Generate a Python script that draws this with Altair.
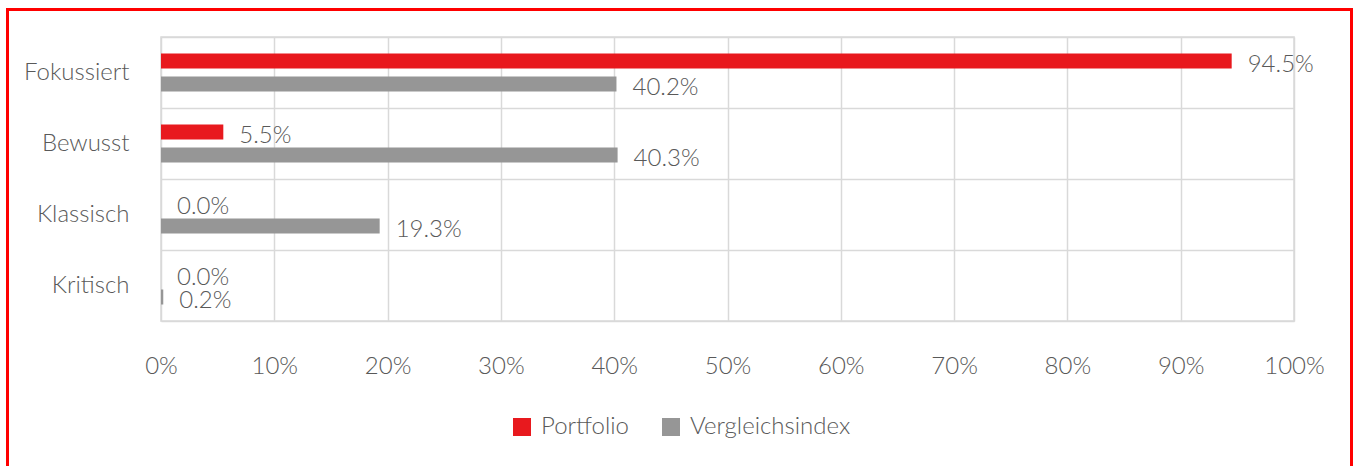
import altair as alt
import pandas as pd

categories = ["Fokussiert", "Bewusst", "Klassisch", "Kritisch"]
series = ["Portfolio", "Vergleichsindex"]
portfolio = [94.5, 5.5, 0.0, 0.0]
vergleichsindex = [40.2, 40.3, 19.3, 0.2]
x_ticks = [0, 10, 20, 30, 40, 50, 60, 70, 80, 90, 100]
colors = ["#E8191E", "#969696"]

rows = []
for c, p, v in zip(categories, portfolio, vergleichsindex):
    rows.append({"Kategorie": c, "Serie": series[0], "Wert": p})
    rows.append({"Kategorie": c, "Serie": series[1], "Wert": v})
df = pd.DataFrame(rows)

FONT = "Lato"
TXT = "#595959"
GRID = "#d9d9d9"

y = alt.Y(
    "Kategorie:N", sort=categories,
    scale=alt.Scale(paddingInner=0, paddingOuter=0),
    axis=alt.Axis(title=None, tickBand="extent", grid=True, ticks=False, domain=False,
                  labelPadding=32, labelFontSize=24, labelColor=TXT, labelFont=FONT,
                  labelFontWeight=300, gridColor=GRID, gridWidth=1.5),
)
yoff = alt.YOffset("Serie:N", sort=series,
                   scale=alt.Scale(paddingInner=0.348, paddingOuter=0.717))
x = alt.X(
    "Wert:Q", scale=alt.Scale(domain=[0, 100], nice=False),
    axis=alt.Axis(values=x_ticks, labelExpr="datum.value + '%'", title=None, ticks=False,
                  domain=False, grid=True, gridColor=GRID, gridWidth=1.5, labelPadding=33,
                  labelFlush=False, labelFontSize=24, labelColor=TXT, labelFont=FONT,
                  labelFontWeight=300),
)
color = alt.Color(
    "Serie:N", sort=series, scale=alt.Scale(domain=series, range=colors),
    legend=alt.Legend(title=None, orient="none", legendX=349, legendY=378,
                      direction="horizontal", symbolType="square", symbolSize=324,
                      symbolStrokeWidth=0, labelFontSize=24, labelFont=FONT,
                      labelFontWeight=300, labelColor=TXT, labelOffset=7,
                      labelLimit=400, columnPadding=29, padding=0),
)

base = alt.Chart(df)
bars = base.mark_bar().encode(x=x, y=y, yOffset=yoff, color=color)
labels = base.mark_text(
    align="left", baseline="middle", dx=16, dy=4, fontSize=24, font=FONT,
    fontWeight=300, color=TXT,
).transform_calculate(label="format(datum.Wert, '.1f') + '%'").encode(
    x=x, y=y, yOffset=yoff, text="label:N")

frame = alt.Chart(pd.DataFrame({"f": [0]})).mark_rect(
    fillOpacity=0, stroke="#ff0000", strokeWidth=3
).encode(x=alt.value(-153.5), x2=alt.value(1190.5), y=alt.value(-27.5), y2=alt.value(500))

chart = alt.layer(bars, labels, frame).properties(
    width=1133, height=284,
    autosize=alt.AutoSizeParams(type="none"),
    padding={"left": 161, "top": 37, "right": 62, "bottom": 145},
    background="white",
).configure_view(stroke=GRID, strokeWidth=1.5)

chart.save("out.html", embed_options={"renderer": "svg", "actions": False})
